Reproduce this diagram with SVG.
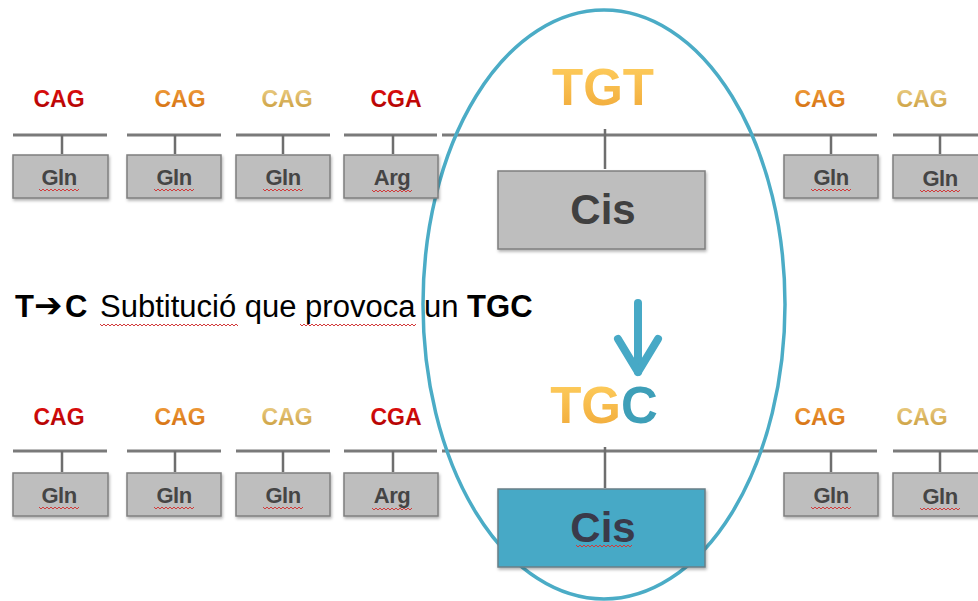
<svg xmlns="http://www.w3.org/2000/svg" width="978" height="601" viewBox="0 0 978 601">
<defs>
<linearGradient id="gRed" x1="0" y1="0" x2="0" y2="1"><stop offset="0" stop-color="#E41010"/><stop offset="1" stop-color="#A80000"/></linearGradient>
<linearGradient id="gOra" x1="0" y1="0" x2="0" y2="1"><stop offset="0" stop-color="#F2A040"/><stop offset="1" stop-color="#D06A0A"/></linearGradient>
<linearGradient id="gTan" x1="0" y1="0" x2="0" y2="1"><stop offset="0" stop-color="#EDD08A"/><stop offset="1" stop-color="#C89A38"/></linearGradient>
<linearGradient id="gGold" x1="0" y1="0" x2="0" y2="1"><stop offset="0" stop-color="#FFD060"/><stop offset="1" stop-color="#F0A838"/></linearGradient>
<filter id="sh" x="-10%" y="-10%" width="130%" height="140%"><feDropShadow dx="1" dy="2" stdDeviation="1.5" flood-color="#000" flood-opacity="0.3"/></filter>
<path id="sq" d="M0,0 l2,2 l2,-2 l2,2 l2,-2 l2,2 l2,-2 l2,2 l2,-2 l2,2 l2,-2 l2,2 l2,-2 l2,2 l2,-2 l2,2 l2,-2 l2,2 l2,-2 l2,2 l2,-2"/>
</defs>
<style>
.lbl{font-family:"Liberation Sans",Arial,sans-serif;font-weight:bold;font-size:23px;text-anchor:middle}
.red{fill:url(#gRed)}.ora{fill:url(#gOra)}.tan{fill:url(#gTan)}
.box{fill:#BEBEBE;stroke:#7F7F7F;stroke-width:1.5;filter:url(#sh)}
.aa{font-family:"Liberation Sans",Arial,sans-serif;font-weight:bold;font-size:22px;fill:#454545;text-anchor:middle;letter-spacing:-0.5px}
.cis{font-family:"Liberation Sans",Arial,sans-serif;font-weight:bold;font-size:42px;text-anchor:middle}
.big{font-family:"Liberation Sans",Arial,sans-serif;font-weight:bold;font-size:51px;text-anchor:middle}
.ln{stroke:#7A7A7A;stroke-width:3;fill:none}
.tk{stroke:#6E6E6E;stroke-width:2.5;fill:none}
.sq{fill:none;stroke:#D23A3A;stroke-width:1}
.txt{font-family:"Liberation Sans",Arial,sans-serif;font-size:31px;fill:#000}
</style>
<rect width="978" height="601" fill="#FFFFFF"/>
<g id="connectors">
<path class="ln" d="M13,135H107M127,135H221M236,135H330M344,135H437M442,135H877M893,135H978"/>
<path class="ln" d="M13,451H107M127,451H221M236,451H330M344,451H437M442,451H877M893,451H978"/>
<path class="tk" d="M62,135V154M175,135V154M283,135V154M393,135V154M605,129V169M831,135V154M940,135V154"/>
<path class="tk" d="M62,451V472M175,451V472M283,451V472M393,451V472M605,447V488M831,451V472M940,451V472"/>
</g>
<ellipse id="highlight" cx="604" cy="304.5" rx="181" ry="294.5" fill="none" stroke="#4BACC6" stroke-width="3.5"/>
<g id="labels-top">
<text class="lbl red" x="59" y="107">CAG</text>
<text class="lbl ora" x="180" y="107">CAG</text>
<text class="lbl tan" x="287" y="107">CAG</text>
<text class="lbl red" x="396" y="107">CGA</text>
<text class="lbl ora" x="820" y="107">CAG</text>
<text class="lbl tan" x="922" y="107">CAG</text>
<text class="big" x="603" y="105" fill="url(#gGold)">TGT</text>
</g>
<g id="labels-bottom">
<text class="lbl red" x="59" y="425">CAG</text>
<text class="lbl ora" x="180" y="425">CAG</text>
<text class="lbl tan" x="287" y="425">CAG</text>
<text class="lbl red" x="396" y="425">CGA</text>
<text class="lbl ora" x="820" y="425">CAG</text>
<text class="lbl tan" x="922" y="425">CAG</text>
<text class="big" x="604" y="423" fill="url(#gGold)">TG<tspan fill="#3E9FB8">C</tspan></text>
</g>
<g id="t1"><rect class="box" x="13" y="155" width="95" height="43"/><text class="aa" x="59" y="185">Gln</text></g>
<g id="t2"><rect class="box" x="127" y="155" width="94" height="43"/><text class="aa" x="174" y="185">Gln</text></g>
<g id="t3"><rect class="box" x="236" y="155" width="94" height="43"/><text class="aa" x="283" y="185">Gln</text></g>
<g id="t4"><rect class="box" x="344" y="155" width="94" height="43"/><text class="aa" x="392" y="185">Arg</text></g>
<g id="t5"><rect class="box" x="498" y="171" width="207" height="78"/><text class="cis" x="603" y="224" fill="#404040">Cis</text></g>
<g id="t6"><rect class="box" x="784" y="155" width="94" height="43"/><text class="aa" x="831" y="185">Gln</text></g>
<g id="t7"><rect class="box" x="893" y="155" width="94" height="43"/><text class="aa" x="940" y="186">Gln</text></g>
<g id="b1"><rect class="box" x="13" y="473" width="95" height="43"/><text class="aa" x="59" y="503">Gln</text></g>
<g id="b2"><rect class="box" x="127" y="473" width="94" height="43"/><text class="aa" x="174" y="503">Gln</text></g>
<g id="b3"><rect class="box" x="236" y="473" width="94" height="43"/><text class="aa" x="283" y="503">Gln</text></g>
<g id="b4"><rect class="box" x="344" y="473" width="94" height="43"/><text class="aa" x="392" y="503">Arg</text></g>
<g id="b5"><rect class="box" x="498" y="489" width="207" height="78" style="fill:#47A9C6;stroke:#6A7F86"/><text class="cis" x="603" y="542" fill="#3A3A4A">Cis</text></g>
<g id="b6"><rect class="box" x="784" y="473" width="94" height="43"/><text class="aa" x="831" y="503">Gln</text></g>
<g id="b7"><rect class="box" x="893" y="473" width="94" height="43"/><text class="aa" x="940" y="504">Gln</text></g>
<g id="squiggles">
<use href="#sq" class="sq" x="39" y="189"/><use href="#sq" class="sq" x="154" y="189"/><use href="#sq" class="sq" x="263" y="189"/><use href="#sq" class="sq" x="372" y="190"/>
<use href="#sq" class="sq" x="811" y="189"/><use href="#sq" class="sq" x="920" y="190"/>
<use href="#sq" class="sq" x="39" y="507"/><use href="#sq" class="sq" x="154" y="507"/><use href="#sq" class="sq" x="263" y="507"/><use href="#sq" class="sq" x="372" y="508"/>
<use href="#sq" class="sq" x="811" y="507"/><use href="#sq" class="sq" x="920" y="508"/>
<path class="sq" d="M576,545 l2,2 l2,-2 l2,2 l2,-2 l2,2 l2,-2 l2,2 l2,-2 l2,2 l2,-2 l2,2 l2,-2 l2,2 l2,-2 l2,2 l2,-2 l2,2 l2,-2 l2,2 l2,-2 l2,2 l2,-2 l2,2 l2,-2 l2,2 l2,-2 l2,2 l2,-2"/>
</g>
<g id="caption">
<text class="txt" y="317"><tspan x="15" font-weight="bold">T</tspan><tspan x="34" font-weight="bold" font-family="'DejaVu Sans',sans-serif" font-size="34">➔</tspan><tspan x="65" font-weight="bold">C</tspan><tspan x="100">Subtitució que provoca un <tspan font-weight="bold">TGC</tspan></tspan></text>
<path class="sq" d="M100,324 l2,2 l2,-2 l2,2 l2,-2 l2,2 l2,-2 l2,2 l2,-2 l2,2 l2,-2 l2,2 l2,-2 l2,2 l2,-2 l2,2 l2,-2 l2,2 l2,-2 l2,2 l2,-2 l2,2 l2,-2 l2,2 l2,-2 l2,2 l2,-2 l2,2 l2,-2 l2,2 l2,-2 l2,2 l2,-2 l2,2 l2,-2 l2,2 l2,-2 l2,2 l2,-2 l2,2 l2,-2 l2,2 l2,-2 l2,2 l2,-2 l2,2 l2,-2 l2,2 l2,-2 l2,2 l2,-2 l2,2 l2,-2 l2,2 l2,-2 l2,2 l2,-2 l2,2 l2,-2 l2,2 l2,-2 l2,2 l2,-2 l2,2 l2,-2 l2,2 l2,-2 l2,2 l2,-2 l2,2"/>
<path class="sq" d="M300,324 l2,2 l2,-2 l2,2 l2,-2 l2,2 l2,-2 l2,2 l2,-2 l2,2 l2,-2 l2,2 l2,-2 l2,2 l2,-2 l2,2 l2,-2 l2,2 l2,-2 l2,2 l2,-2 l2,2 l2,-2 l2,2 l2,-2 l2,2 l2,-2 l2,2 l2,-2 l2,2 l2,-2 l2,2 l2,-2 l2,2 l2,-2 l2,2 l2,-2 l2,2 l2,-2 l2,2 l2,-2 l2,2 l2,-2 l2,2 l2,-2 l2,2 l2,-2 l2,2 l2,-2 l2,2 l2,-2 l2,2 l2,-2 l2,2 l2,-2 l2,2 l2,-2 l2,2 l2,-2"/>
</g>
<g id="arrow" fill="none" stroke="#47A9C6" stroke-width="8" stroke-linecap="round" stroke-linejoin="round">
<path d="M638,303V372"/>
<path d="M618,339L638,372L658,339"/>
</g>
</svg>
